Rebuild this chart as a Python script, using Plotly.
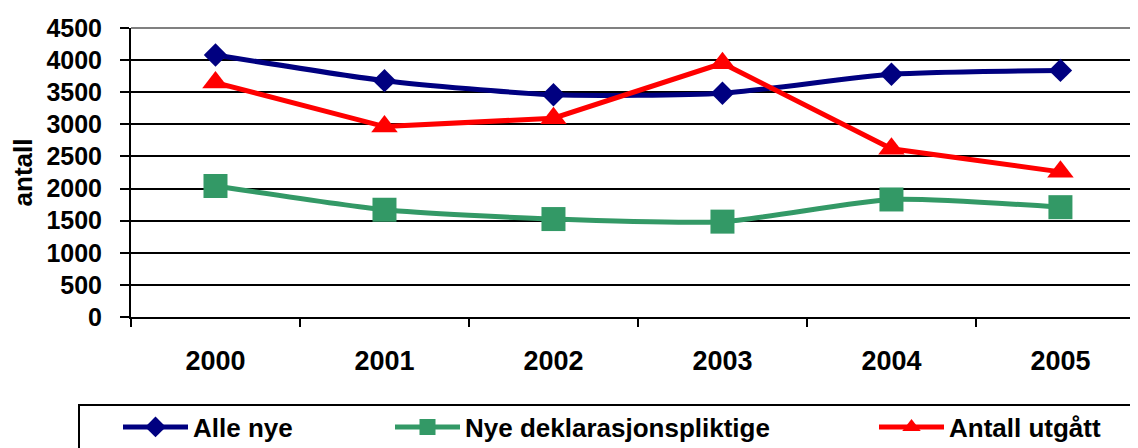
import plotly.graph_objects as go

years = ["2000", "2001", "2002", "2003", "2004", "2005"]
alle_nye = [4080, 3680, 3460, 3485, 3780, 3840]
nye_dekl = [2040, 1670, 1525, 1485, 1830, 1710]
antall_utgatt = [3650, 2965, 3095, 3950, 2620, 2260]
y_ticks = [0, 500, 1000, 1500, 2000, 2500, 3000, 3500, 4000, 4500]

FONT = "Liberation Sans"
OFF = 8  # page body margin
W, H = 1130, 440
L, R, T = 131 - OFF, 0, 28 - OFF
B = H - (317 - OFF)
pw = W - L - R
ph = H - T - B

def px_x(x):
    return (x - OFF - L) / pw

def px_y(y):
    return (H - B - (y - OFF)) / ph

fig = go.Figure()
fig.add_trace(go.Scatter(
    x=years, y=alle_nye, name="Alle nye", mode="lines+markers",
    line=dict(color="#000080", width=5, shape="spline", smoothing=0.6),
    marker=dict(symbol="diamond", size=18, color="#000080"),
    legend="legend"))
fig.add_trace(go.Scatter(
    x=years, y=nye_dekl, name="Nye deklarasjonspliktige", mode="lines+markers",
    line=dict(color="#339966", width=5, shape="spline", smoothing=0.6),
    marker=dict(symbol="square", size=24, color="#339966"),
    legend="legend2"))
fig.add_trace(go.Scatter(
    x=years, y=antall_utgatt, name="Antall utgått", mode="lines+markers",
    line=dict(color="#FF0000", width=5),
    marker=dict(symbol="triangle-up", size=23, color="#FF0000"),
    legend="legend3"))

leg_font = dict(family=FONT, size=26, color="black", weight="bold")
leg_common = dict(font=leg_font, bgcolor="rgba(0,0,0,0)", borderwidth=0,
                  yanchor="middle", xanchor="left", itemwidth=65,
                  orientation="h")
fig.update_layout(
    width=W, height=H,
    margin=dict(l=L, r=R, t=T, b=B, autoexpand=False),
    paper_bgcolor="white", plot_bgcolor="white",
    showlegend=True,
    legend=dict(x=px_x(118), y=px_y(427), **leg_common),
    legend2=dict(x=px_x(390), y=px_y(427), **leg_common),
    legend3=dict(x=px_x(874), y=px_y(427), **leg_common),
    xaxis=dict(
        type="category", range=[-0.5, 5.459], tickson="boundaries",
        ticks="outside", ticklen=8, tickwidth=2, tickcolor="black",
        showline=True, linecolor="black", linewidth=2,
        showgrid=False, zeroline=False,
        tickfont=dict(family=FONT, size=27, color="black", weight="bold"),
        ticklabelstandoff=19,
    ),
    yaxis=dict(
        range=[0, 4500], tickvals=y_ticks,
        ticks="outside", ticklen=9, tickwidth=2, tickcolor="black",
        showline=True, linecolor="black", linewidth=2,
        showgrid=True, gridcolor="black", gridwidth=2, zeroline=False,
        tickfont=dict(family=FONT, size=25, color="black", weight="bold"),
        ticklabelstandoff=13,
        title=dict(text="antall", standoff=15,
                   font=dict(family=FONT, size=26, color="black", weight="bold")),
    ),
    shapes=[
        dict(type="line", xref="paper", yref="paper", x0=0, x1=1, y0=1, y1=1,
             line=dict(color="#808080", width=2)),
        dict(type="rect", xref="paper", yref="paper",
             x0=px_x(79), x1=1.05, y0=-0.7, y1=px_y(405),
             line=dict(color="black", width=2)),
    ],
)

fig.write_html("out.html")
